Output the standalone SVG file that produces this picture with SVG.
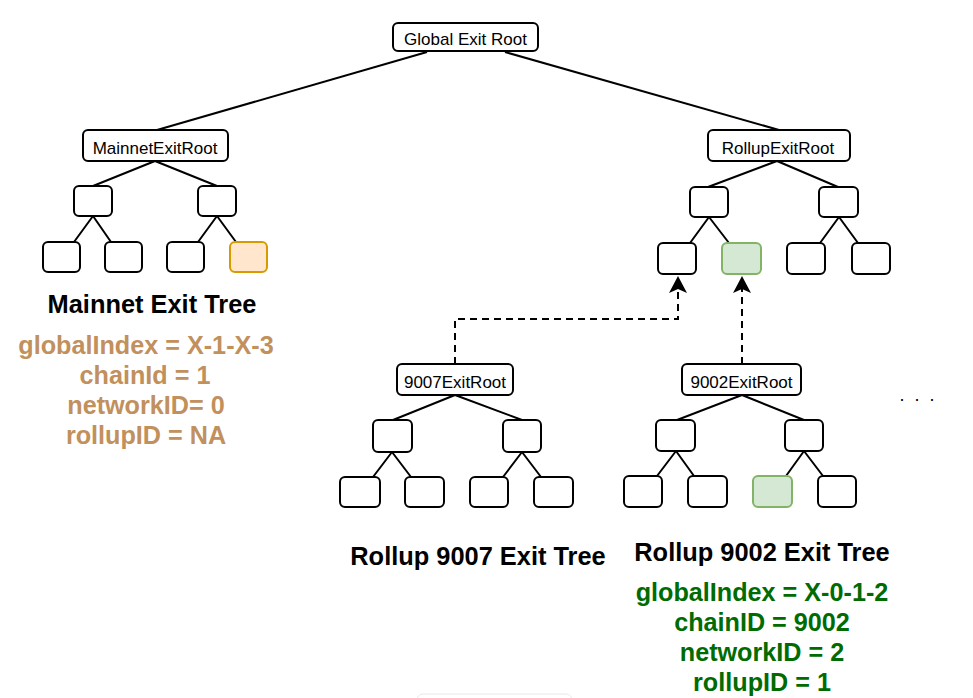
<svg xmlns="http://www.w3.org/2000/svg" width="973" height="698" viewBox="0 0 973 698">
<style>
.n{fill:#fff;stroke:#000;stroke-width:2}
.o{fill:#ffe6cc;stroke:#d79b00;stroke-width:2}
.g{fill:#d5e8d4;stroke:#82b366;stroke-width:2}
.e{stroke:#000;stroke-width:2;fill:none}
.d{stroke:#000;stroke-width:2;fill:none;stroke-dasharray:7 5}
.lbl{font-family:"Liberation Sans",Arial,sans-serif;font-size:17px;fill:#000;text-anchor:middle}
.ttl{font-family:"Liberation Sans",Arial,sans-serif;font-size:25.4px;font-weight:bold;fill:#000;text-anchor:middle}
.or{font-family:"Liberation Sans",Arial,sans-serif;font-size:25.2px;font-weight:bold;fill:#c1905c;text-anchor:middle}
.gr{font-family:"Liberation Sans",Arial,sans-serif;font-size:25.2px;font-weight:bold;fill:#006b00;text-anchor:middle}
</style>
<defs>
<marker id="arr" viewBox="-18 -10 19 20" markerWidth="19" markerHeight="20" refX="-13" refY="0" orient="auto" markerUnits="userSpaceOnUse">
<path d="M0,0 L-17,-9 L-13,0 L-17,9 Z" fill="#000"/>
</marker>
</defs>
<rect x="417" y="694" width="155" height="20" rx="6" fill="#fff" stroke="#e8e8e8" stroke-width="1"/>
<g id="connectors">
<path class="e" d="M427,52 L157,130"/>
<path class="e" d="M505,52 L779,130"/>
<path class="e" d="M155,161 L93,186 M155,161 L217,186"/>
<path class="e" d="M93,216 L74,242 M93,216 L111,242"/>
<path class="e" d="M217,216 L198,242 M217,216 L236,242"/>
<path class="e" d="M777,161 L708,187 M777,161 L838,187"/>
<path class="e" d="M709,217 L690,243 M709,217 L729,243"/>
<path class="e" d="M839,217 L820,243 M839,217 L858,243"/>
<path class="e" d="M455,395 L393,420 M455,395 L522,420"/>
<path class="e" d="M392,452 L373,477 M392,452 L411,477"/>
<path class="e" d="M522,452 L503,477 M522,452 L541,477"/>
<path class="e" d="M742,395 L677,420 M742,395 L804,420"/>
<path class="e" d="M676,451 L657,476 M676,451 L694,476"/>
<path class="e" d="M804,451 L786,476 M804,451 L823,476"/>
<path class="d" d="M455,364 V319 H678 V289" marker-end="url(#arr)"/>
<path class="d" d="M742,364 V289" marker-end="url(#arr)"/>
</g>
<g id="global-exit-root"><rect class="n" x="393" y="23" width="145" height="28" rx="5"/><text class="lbl" x="465.5" y="45">Global Exit Root</text></g>
<g id="mainnet-exit-root"><rect class="n" x="83" y="130" width="145" height="31" rx="5"/><text class="lbl" x="155" y="154">MainnetExitRoot</text></g>
<g id="rollup-exit-root"><rect class="n" x="708" y="130" width="142" height="31" rx="5"/><text class="lbl" x="778" y="154">RollupExitRoot</text></g>
<g id="root-9007"><rect class="n" x="397" y="364" width="116" height="31" rx="5"/><text class="lbl" x="455" y="388">9007ExitRoot</text></g>
<g id="root-9002"><rect class="n" x="682" y="364" width="119" height="31" rx="5"/><text class="lbl" x="741.5" y="388">9002ExitRoot</text></g>
<g id="m-l2a"><rect class="n" x="74" y="186" width="38" height="30" rx="5"/></g>
<g id="m-l2b"><rect class="n" x="198" y="186" width="38" height="30" rx="5"/></g>
<g id="m-leaf1"><rect class="n" x="43" y="242" width="37" height="30" rx="5"/></g>
<g id="m-leaf2"><rect class="n" x="105" y="242" width="37" height="30" rx="5"/></g>
<g id="m-leaf3"><rect class="n" x="167" y="242" width="37" height="30" rx="5"/></g>
<g id="m-leaf4"><rect class="o" x="230" y="242" width="37" height="30" rx="5"/></g>
<g id="r-l2a"><rect class="n" x="690" y="187" width="38" height="30" rx="5"/></g>
<g id="r-l2b"><rect class="n" x="819" y="187" width="39" height="30" rx="5"/></g>
<g id="r-leaf1"><rect class="n" x="658" y="243" width="38" height="31" rx="5"/></g>
<g id="r-leaf2"><rect class="g" x="722" y="243" width="39" height="31" rx="5"/></g>
<g id="r-leaf3"><rect class="n" x="787" y="243" width="38" height="31" rx="5"/></g>
<g id="r-leaf4"><rect class="n" x="852" y="243" width="38" height="31" rx="5"/></g>
<g id="a-l2a"><rect class="n" x="373" y="420" width="39" height="32" rx="5"/></g>
<g id="a-l2b"><rect class="n" x="503" y="420" width="38" height="32" rx="5"/></g>
<g id="a-leaf1"><rect class="n" x="340" y="477" width="40" height="30" rx="5"/></g>
<g id="a-leaf2"><rect class="n" x="405" y="477" width="39" height="30" rx="5"/></g>
<g id="a-leaf3"><rect class="n" x="470" y="477" width="38" height="30" rx="5"/></g>
<g id="a-leaf4"><rect class="n" x="534" y="477" width="39" height="30" rx="5"/></g>
<g id="b-l2a"><rect class="n" x="656" y="420" width="39" height="31" rx="5"/></g>
<g id="b-l2b"><rect class="n" x="785" y="420" width="38" height="31" rx="5"/></g>
<g id="b-leaf1"><rect class="n" x="624" y="476" width="38" height="31" rx="5"/></g>
<g id="b-leaf2"><rect class="n" x="688" y="476" width="39" height="31" rx="5"/></g>
<g id="b-leaf3"><rect class="g" x="753" y="476" width="39" height="31" rx="5"/></g>
<g id="b-leaf4"><rect class="n" x="818" y="476" width="38" height="31" rx="5"/></g>
<g id="mainnet-label">
<text class="ttl" x="152" y="313">Mainnet Exit Tree</text>
<text class="or" x="146" y="353.5">globalIndex = X-1-X-3</text>
<text class="or" x="145" y="383.5">chainId = 1</text>
<text class="or" x="146" y="413.5">networkID= 0</text>
<text class="or" x="146" y="443.5">rollupID = NA</text>
</g>
<g id="rollup9007-label"><text class="ttl" x="478" y="565">Rollup 9007 Exit Tree</text></g>
<g id="rollup9002-label">
<text class="ttl" x="762" y="561">Rollup 9002 Exit Tree</text>
<text class="gr" x="762" y="601">globalIndex = X-0-1-2</text>
<text class="gr" x="762" y="631">chainID = 9002</text>
<text class="gr" x="762" y="661">networkID = 2</text>
<text class="gr" x="762" y="691">rollupID = 1</text>
</g>
<g id="ellipsis"><text class="lbl" style="text-anchor:start;letter-spacing:2.5px;font-size:18px" x="899.5" y="401">. . .</text></g>
</svg>
